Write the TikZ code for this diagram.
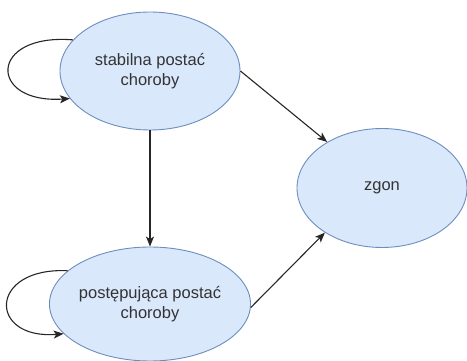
\documentclass[tikz,border=0pt]{standalone}
\usepackage{fontspec}
\setmainfont{Liberation Sans}
\usetikzlibrary{shapes.geometric,arrows.meta}

\definecolor{stanfill}{HTML}{DAE8FC}
\definecolor{stanline}{HTML}{6C8EBF}

\tikzset{
    stan/.style={ellipse, draw=stanline, fill=stanfill, line width=0.9pt,
                 inner sep=0pt, align=center, font=\fontsize{16.5}{20}\selectfont, text=black!80},
    przejscie/.style={-{Stealth[length=10pt, width=8pt, inset=2.5pt]}, line width=1.1pt, black!85}
}

\begin{document}
\begin{tikzpicture}[x=1pt, y=-1pt]
                    \useasboundingbox (0, 0) rectangle (467, 361);

                    \node[stan, minimum width=180pt, minimum height=118pt] (stabilna) at (150, 71)  {stabilna postać\\choroby};
                    \node[stan, minimum width=180pt, minimum height=114pt] (postep)   at (150, 304) {postępująca postać\\choroby};
                    \node[stan, minimum width=170pt, minimum height=119pt] (zgon)     at (382, 188) {zgon};

                    % petle
                    \draw[przejscie] (stabilna.158) .. controls (-12, 33) and (-12, 104) .. (stabilna.199);
                    \draw[przejscie] (postep.158) .. controls (-12, 267) and (-12, 340) .. (postep.199);

                    \draw[przejscie] (stabilna) -- (postep);
                    \draw[przejscie] (stabilna.0) -- (zgon.140);
                    \draw[przejscie] (postep.-2) -- (zgon.218);

                \end{tikzpicture}
\end{document}
